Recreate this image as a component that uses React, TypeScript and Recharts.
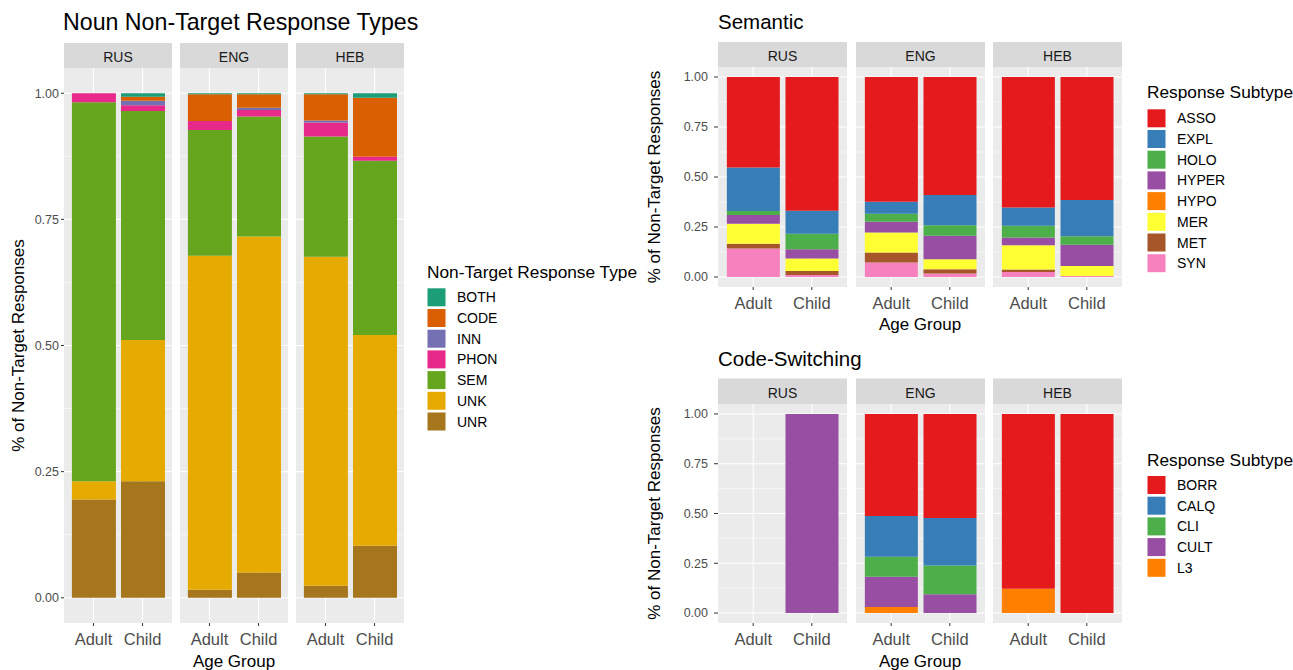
import React from 'react';
import { BarChart, Bar, XAxis, YAxis, CartesianGrid } from 'recharts';

const FONT = "'Liberation Sans', Arial, Helvetica, sans-serif";

const FACETS = ['RUS', 'ENG', 'HEB'];
const AGES = ['Adult', 'Child'];
const Y_TICKS = [0, 0.25, 0.5, 0.75, 1];
const Y_TICK_LABELS = ['0.00', '0.25', '0.50', '0.75', '1.00'];
const Y_MINOR = [0.125, 0.375, 0.625, 0.875];

// value order in each series: RUS-Adult, RUS-Child, ENG-Adult, ENG-Child, HEB-Adult, HEB-Child
// ---- Noun Non-Target Response Types ----
const TYPE_KEYS = ['BOTH', 'CODE', 'INN', 'PHON', 'SEM', 'UNK', 'UNR'];
const TYPE_COLORS = ['#1B9E77', '#D95F02', '#7570B3', '#E7298A', '#66A61E', '#E6AB02', '#A6761D'];
const BOTH = [0, 0.007, 0.002, 0.002, 0.002, 0.009];
const CODE = [0, 0.008, 0.053, 0.027, 0.052, 0.117];
const INN = [0, 0.009, 0, 0.004, 0.004, 0];
const PHON = [0.018, 0.011, 0.018, 0.013, 0.028, 0.008];
const SEM = [0.751, 0.454, 0.249, 0.238, 0.238, 0.345];
const UNK = [0.036, 0.28, 0.662, 0.666, 0.652, 0.418];
const UNR = [0.195, 0.231, 0.016, 0.05, 0.024, 0.103];
const TYPE_SERIES = [BOTH, CODE, INN, PHON, SEM, UNK, UNR];

// ---- Semantic ----
const SEM_KEYS = ['ASSO', 'EXPL', 'HOLO', 'HYPER', 'HYPO', 'MER', 'MET', 'SYN'];
const SEM_COLORS = ['#E41A1C', '#377EB8', '#4DAF4A', '#984EA3', '#FF7F00', '#FFFF33', '#A65628', '#F781BF'];
const ASSO = [0.453, 0.669, 0.624, 0.59, 0.652, 0.615];
const EXPL = [0.217, 0.115, 0.06, 0.151, 0.092, 0.181];
const HOLO = [0.02, 0.077, 0.04, 0.053, 0.058, 0.043];
const HYPER = [0.044, 0.047, 0.053, 0.117, 0.039, 0.106];
const HYPO = [0, 0, 0, 0, 0, 0];
const MER = [0.1, 0.062, 0.101, 0.05, 0.122, 0.05];
const MET = [0.024, 0.02, 0.05, 0.022, 0.012, 0];
const SYN = [0.142, 0.01, 0.072, 0.017, 0.025, 0.005];
const SEM_SERIES = [ASSO, EXPL, HOLO, HYPER, HYPO, MER, MET, SYN];

// ---- Code-Switching ----
const CS_KEYS = ['BORR', 'CALQ', 'CLI', 'CULT', 'L3'];
const CS_COLORS = ['#E41A1C', '#377EB8', '#4DAF4A', '#984EA3', '#FF7F00'];
const BORR = [0, 0, 0.513, 0.523, 0.878, 1];
const CALQ = [0, 0, 0.204, 0.238, 0, 0];
const CLI = [0, 0, 0.101, 0.144, 0, 0];
const CULT = [0, 1, 0.152, 0.095, 0, 0];
const L3 = [0, 0, 0.03, 0, 0.122, 0];
const CS_SERIES = [BORR, CALQ, CLI, CULT, L3];

const Y_TITLE = '% of Non-Target Responses';
const X_TITLE = 'Age Group';

function buildPanelData(keys: string[], series: number[][], facetIdx: number) {
  return AGES.map((age, j) => {
    const row: any = { age };
    keys.forEach((k, ki) => {
      row[k] = series[ki][facetIdx * 2 + j];
    });
    return row;
  });
}

const scaleAt = (s: any, v: any): number | null => {
  if (!s) return null;
  if (typeof s === 'function') return s(v);
  if (typeof s.map === 'function') return s.map(v);
  return null;
};

const hGen = (vals: number[]) => (p: any) => {
  const s = p?.yAxis?.scale;
  const out: number[] = [];
  vals.forEach((v) => {
    const c = scaleAt(s, v);
    if (c != null && !isNaN(c)) out.push(c);
  });
  return out;
};

const vGen = (p: any) => {
  const s = p?.xAxis?.scale;
  const out: number[] = [];
  AGES.forEach((a) => {
    const c = scaleAt(s, a);
    const bw = s && typeof s.bandwidth === 'function' ? s.bandwidth() : 0;
    if (c != null && !isNaN(c)) out.push(c + bw / 2);
  });
  return out;
};

type FacetProps = {
  lefts: number[];
  top: number;
  width: number;
  height: number;
  axisW: number;
  yTickSize: number;
  yTickMargin: number;
  xAxisH: number;
  keys: string[];
  colors: string[];
  series: number[][];
  barSize: number;
};

function FacetRow(props: FacetProps) {
  const { lefts, top, width, height, axisW, xAxisH, keys, colors, series, barSize } = props;
  const pad = width / 22;
  return (
    <>
      {FACETS.map((f, i) => {
        const first = i === 0;
        const w = width + (first ? axisW : 0);
        const data = buildPanelData(keys, series, i);
        return (
          <div
            key={f}
            style={{ position: 'absolute', left: lefts[i] - (first ? axisW : 0), top, width: w, height: height + xAxisH }}
          >
            <BarChart width={w} height={height + xAxisH} data={data} margin={{ top: 0, right: 0, bottom: 0, left: 0 }}>
              <CartesianGrid
                fill="#EBEBEB"
                stroke="#FFFFFF"
                strokeWidth={0.55}
                vertical={false}
                horizontalCoordinatesGenerator={hGen(Y_MINOR)}
              />
              <CartesianGrid
                stroke="#FFFFFF"
                strokeWidth={1.1}
                horizontalCoordinatesGenerator={hGen(Y_TICKS)}
                verticalCoordinatesGenerator={vGen}
              />
              <XAxis
                dataKey="age"
                type="category"
                padding={{ left: pad, right: pad }}
                height={xAxisH}
                tickSize={3}
                tickMargin={7}
                axisLine={false}
                tickLine={{ stroke: '#333333' }}
                tick={{ fontSize: 16.5, fill: '#4D4D4D', fontFamily: FONT }}
                interval={0}
              />
              <YAxis
                type="number"
                domain={[-0.05, 1.05]}
                allowDataOverflow
                ticks={Y_TICKS}
                hide={!first}
                width={axisW}
                tickSize={props.yTickSize}
                tickMargin={props.yTickMargin}
                axisLine={false}
                tickLine={{ stroke: '#333333' }}
                tick={{ fontSize: 12.5, fill: '#4D4D4D', fontFamily: FONT }}
                tickFormatter={(v: number) => Y_TICK_LABELS[Y_TICKS.indexOf(v)] ?? String(v)}
              />
              {keys
                .map((k, ki) => ({ k, c: colors[ki] }))
                .reverse()
                .map(({ k, c }) => (
                  <Bar key={k} dataKey={k} stackId="s" fill={c} barSize={barSize} isAnimationActive={false} />
                ))}
            </BarChart>
          </div>
        );
      })}
    </>
  );
}

function Strips({ lefts, width, top, height, baseline }: { lefts: number[]; width: number; top: number; height: number; baseline: number }) {
  return (
    <>
      {FACETS.map((f, i) => (
        <g key={f}>
          <rect x={lefts[i]} y={top} width={width} height={height} fill="#D9D9D9" />
          <text x={lefts[i] + width / 2} y={baseline} textAnchor="middle" fontSize={14} fill="#1A1A1A">
            {f}
          </text>
        </g>
      ))}
    </>
  );
}

function LegendBlock({ x, titleBaseline, keyTop, title, keys, colors }: { x: number; titleBaseline: number; keyTop: number; title: string; keys: string[]; colors: string[] }) {
  const step = 20.7;
  const size = 18;
  return (
    <g>
      <text x={x} y={titleBaseline} fontSize={17.3} fill="#000000">
        {title}
      </text>
      {keys.map((k, i) => (
        <g key={k}>
          <rect x={x + 0.5} y={keyTop + i * step} width={size} height={size} fill={colors[i]} />
          <text x={x + 30} y={keyTop + i * step + size / 2 + 5} fontSize={14} fill="#000000">
            {k}
          </text>
        </g>
      ))}
    </g>
  );
}

const LEFT_PANELS = [64, 180, 296];
const RIGHT_PANELS = [718, 856, 993];

export default function App() {
  return (
    <div
      style={{
        position: 'absolute',
        left: 0,
        top: 0,
        width: 1293,
        height: 670,
        overflow: 'hidden',
        background: '#FFFFFF',
        fontFamily: FONT,
      }}
    >
      <FacetRow
        lefts={LEFT_PANELS}
        top={68}
        width={108}
        height={555}
        axisW={40}
        yTickSize={3}
        yTickMargin={2}
        xAxisH={30}
        keys={TYPE_KEYS}
        colors={TYPE_COLORS}
        series={TYPE_SERIES}
        barSize={44}
      />
      <FacetRow
        lefts={RIGHT_PANELS}
        top={67}
        width={129}
        height={220}
        axisW={40}
        yTickSize={4}
        yTickMargin={6}
        xAxisH={30}
        keys={SEM_KEYS}
        colors={SEM_COLORS}
        series={SEM_SERIES}
        barSize={53}
      />
      <FacetRow
        lefts={RIGHT_PANELS}
        top={404}
        width={129}
        height={219}
        axisW={40}
        yTickSize={4}
        yTickMargin={6}
        xAxisH={30}
        keys={CS_KEYS}
        colors={CS_COLORS}
        series={CS_SERIES}
        barSize={53}
      />
      <svg
        width={1293}
        height={670}
        style={{ position: 'absolute', left: 0, top: 0, pointerEvents: 'none' }}
        fontFamily={FONT}
      >
        {/* titles */}
        <text x={63} y={29.5} fontSize={23.2} fill="#000000">Noun Non-Target Response Types</text>
        <text x={718} y={29} fontSize={20.5} fill="#000000">Semantic</text>
        <text x={718} y={366} fontSize={20.5} fill="#000000">Code-Switching</text>

        {/* strips */}
        <Strips lefts={LEFT_PANELS} width={108} top={43} height={25} baseline={61.5} />
        <Strips lefts={RIGHT_PANELS} width={129} top={42} height={25} baseline={60.5} />
        <Strips lefts={RIGHT_PANELS} width={129} top={378.5} height={25.5} baseline={397.5} />

        {/* y titles */}
        <text transform="translate(24,345.5) rotate(-90)" textAnchor="middle" fontSize={17} fill="#000000">{Y_TITLE}</text>
        <text transform="translate(660,177) rotate(-90)" textAnchor="middle" fontSize={17} fill="#000000">{Y_TITLE}</text>
        <text transform="translate(660,513.5) rotate(-90)" textAnchor="middle" fontSize={17} fill="#000000">{Y_TITLE}</text>

        {/* x titles */}
        <text x={234} y={666.5} textAnchor="middle" fontSize={17} fill="#000000">{X_TITLE}</text>
        <text x={920} y={330} textAnchor="middle" fontSize={17} fill="#000000">{X_TITLE}</text>
        <text x={920} y={666.5} textAnchor="middle" fontSize={17} fill="#000000">{X_TITLE}</text>

        {/* legends */}
        <LegendBlock x={427} titleBaseline={278} keyTop={288.3} title="Non-Target Response Type" keys={TYPE_KEYS} colors={TYPE_COLORS} />
        <LegendBlock x={1147} titleBaseline={98} keyTop={109.3} title="Response Subtype" keys={SEM_KEYS} colors={SEM_COLORS} />
        <LegendBlock x={1147} titleBaseline={466} keyTop={476} title="Response Subtype" keys={CS_KEYS} colors={CS_COLORS} />
      </svg>
    </div>
  );
}
